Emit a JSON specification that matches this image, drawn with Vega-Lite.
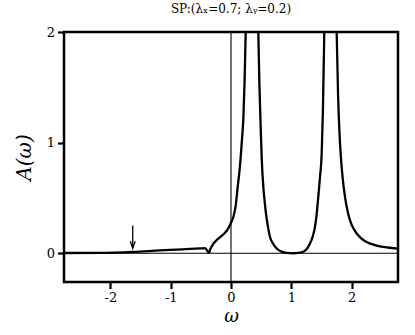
{
  "$schema": "https://vega.github.io/schema/vega-lite/v6.json",
  "autosize": "none",
  "width": 334,
  "height": 250,
  "padding": {"left": 64, "top": 32, "right": 17, "bottom": 53},
  "background": "white",
  "config": {
    "view": {"stroke": "black", "strokeWidth": 2.5},
    "font": "DejaVu Serif",
    "axis": {
      "domain": false,
      "grid": false,
      "tickColor": "black",
      "tickWidth": 2.2,
      "tickSize": 6.5,
      "labelColor": "black",
      "labelFont": "DejaVu Serif",
      "labelFontSize": 13,
      "titleColor": "black",
      "titleFont": "DejaVu Serif",
      "titleFontWeight": "normal"
    }
  },
  "title": {
    "text": "SP:(λₓ=0.7; λᵧ=0.2)",
    "font": "DejaVu Serif",
    "fontSize": 12,
    "fontWeight": "normal",
    "color": "black",
    "anchor": "middle",
    "offset": 10
  },
  "datasets": {
    "curve": [
      {"w": -2.77, "a": 0.002},
      {"w": -2.17, "a": 0.003},
      {"w": -1.62, "a": 0.012},
      {"w": -1.18, "a": 0.025},
      {"w": -0.8, "a": 0.035},
      {"w": -0.514, "a": 0.044},
      {"w": -0.43, "a": 0.046},
      {"w": -0.40, "a": 0.028},
      {"w": -0.365, "a": 0.003},
      {"w": -0.345, "a": 0.035},
      {"w": -0.32, "a": 0.062},
      {"w": -0.29, "a": 0.088},
      {"w": -0.25, "a": 0.112},
      {"w": -0.2, "a": 0.137},
      {"w": -0.15, "a": 0.16},
      {"w": -0.1, "a": 0.185},
      {"w": -0.05, "a": 0.22},
      {"w": 0.0, "a": 0.275},
      {"w": 0.04, "a": 0.33},
      {"w": 0.078, "a": 0.43},
      {"w": 0.111, "a": 0.60},
      {"w": 0.14, "a": 0.74},
      {"w": 0.166, "a": 0.905},
      {"w": 0.185, "a": 1.05},
      {"w": 0.205, "a": 1.22},
      {"w": 0.225, "a": 1.55},
      {"w": 0.244, "a": 2.0},
      {"w": 0.30, "a": 4.0},
      {"w": 0.35, "a": 8.0},
      {"w": 0.40, "a": 4.0},
      {"w": 0.453, "a": 2.0},
      {"w": 0.47, "a": 1.55},
      {"w": 0.493, "a": 1.13},
      {"w": 0.51, "a": 0.85},
      {"w": 0.536, "a": 0.60},
      {"w": 0.56, "a": 0.46},
      {"w": 0.58, "a": 0.36},
      {"w": 0.61, "a": 0.25},
      {"w": 0.647, "a": 0.147},
      {"w": 0.70, "a": 0.085},
      {"w": 0.758, "a": 0.043},
      {"w": 0.85, "a": 0.012},
      {"w": 0.924, "a": 0.003},
      {"w": 1.033, "a": 0.0},
      {"w": 1.12, "a": 0.004},
      {"w": 1.199, "a": 0.014},
      {"w": 1.26, "a": 0.04},
      {"w": 1.31, "a": 0.088},
      {"w": 1.355, "a": 0.15},
      {"w": 1.393, "a": 0.238},
      {"w": 1.42, "a": 0.35},
      {"w": 1.448, "a": 0.51},
      {"w": 1.475, "a": 0.68},
      {"w": 1.504, "a": 0.90},
      {"w": 1.525, "a": 1.3},
      {"w": 1.547, "a": 2.0},
      {"w": 1.60, "a": 4.0},
      {"w": 1.65, "a": 8.0},
      {"w": 1.70, "a": 4.0},
      {"w": 1.753, "a": 2.0},
      {"w": 1.775, "a": 1.45},
      {"w": 1.796, "a": 1.13},
      {"w": 1.819, "a": 0.90},
      {"w": 1.85, "a": 0.69},
      {"w": 1.891, "a": 0.51},
      {"w": 1.93, "a": 0.39},
      {"w": 1.973, "a": 0.30},
      {"w": 2.03, "a": 0.225},
      {"w": 2.085, "a": 0.178},
      {"w": 2.16, "a": 0.135},
      {"w": 2.25, "a": 0.102},
      {"w": 2.35, "a": 0.08},
      {"w": 2.47, "a": 0.063},
      {"w": 2.6, "a": 0.052},
      {"w": 2.77, "a": 0.042}
    ],
    "hline": [{"a": 0}],
    "vline": [{"w": 0}],
    "arrow": [{"w": -1.63, "top": 0.25, "tip": 0.045}]
  },
  "layer": [
    {
      "data": {"name": "hline"},
      "mark": {"type": "rule", "color": "black", "strokeWidth": 1.1},
      "encoding": {"y": {"field": "a", "type": "quantitative"}}
    },
    {
      "data": {"name": "vline"},
      "mark": {"type": "rule", "color": "black", "strokeWidth": 1.1},
      "encoding": {"x": {"field": "w", "type": "quantitative"}}
    },
    {
      "data": {"name": "curve"},
      "mark": {"type": "line", "color": "black", "strokeWidth": 2.3, "clip": true, "strokeJoin": "round", "interpolate": "monotone"},
      "encoding": {
        "x": {
          "field": "w", "type": "quantitative",
          "scale": {"domain": [-2.77, 2.77], "nice": false, "zero": false},
          "axis": {"values": [-2, -1, 0, 1, 2], "labelExpr": "datum.value + ''", "title": "ω", "titleFontSize": 18, "titleFontStyle": "italic", "titlePadding": 3, "labelPadding": 3}
        },
        "y": {
          "field": "a", "type": "quantitative",
          "scale": {"domain": [-0.26, 2], "nice": false, "zero": false},
          "axis": {"values": [0, 1, 2], "labelExpr": "datum.value + ''", "title": "A(ω)", "titleFontSize": 20, "titleFontStyle": "italic", "titlePadding": 12, "labelPadding": 3}
        }
      }
    },
    {
      "data": {"name": "arrow"},
      "mark": {"type": "rule", "color": "black", "strokeWidth": 1.3},
      "encoding": {
        "x": {"field": "w", "type": "quantitative"},
        "y": {"field": "top", "type": "quantitative"},
        "y2": {"field": "tip"}
      }
    },
    {
      "data": {"name": "arrow"},
      "mark": {"type": "point", "shape": "M-0.35,-1L0,0L0.35,-1", "filled": false, "stroke": "black", "strokeWidth": 1.3, "size": 200, "opacity": 1},
      "encoding": {
        "x": {"field": "w", "type": "quantitative"},
        "y": {"field": "tip", "type": "quantitative"}
      }
    }
  ]
}
